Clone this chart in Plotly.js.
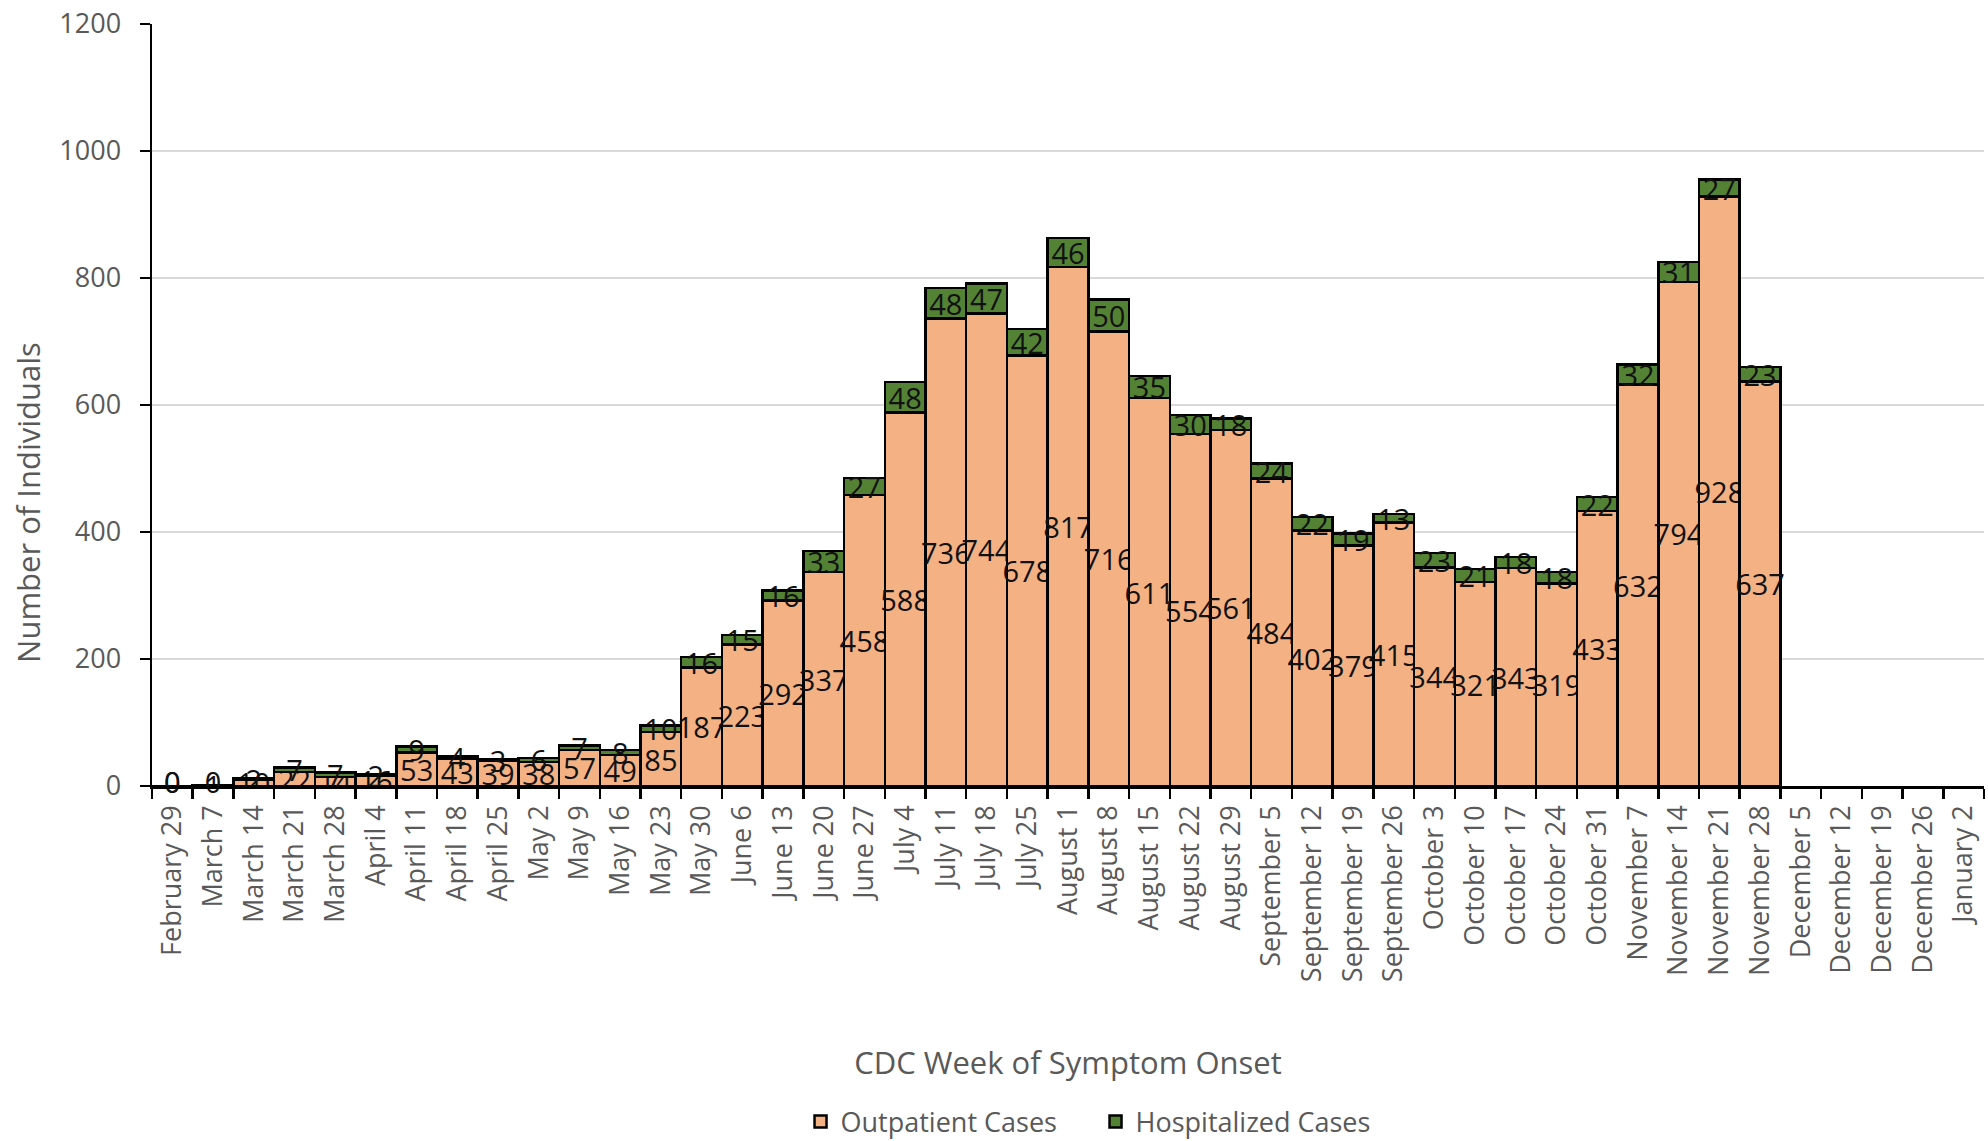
<!DOCTYPE html>
<html>
<head>
<meta charset="utf-8">
<script src="https://cdn.plot.ly/plotly-3.0.1.min.js"></script>
<style>html,body{margin:0;padding:0;background:#fff;}#chart{width:1988px;height:1141px;}</style>
</head>
<body>
<div id="chart"></div>
<script>
const weeks = ["February 29","March 7","March 14","March 21","March 28","April 4","April 11","April 18","April 25","May 2","May 9","May 16","May 23","May 30","June 6","June 13","June 20","June 27","July 4","July 11","July 18","July 25","August 1","August 8","August 15","August 22","August 29","September 5","September 12","September 19","September 26","October 3","October 10","October 17","October 24","October 31","November 7","November 14","November 21","November 28","December 5","December 12","December 19","December 26","January 2"];
const outpatient = [0,1,10,22,14,16,53,43,39,38,57,49,85,187,223,292,337,458,588,736,744,678,817,716,611,554,561,484,402,379,415,344,321,343,319,433,632,794,928,637,null,null,null,null,null];
const hospitalized = [0,0,2,7,7,2,9,4,3,6,7,8,10,16,15,16,33,27,48,48,47,42,46,50,35,30,18,24,22,19,13,23,21,18,18,22,32,31,27,23,null,null,null,null,null];
const yTicks = [0,200,400,600,800,1000,1200];

const labelFont = {family: "Open Sans, sans-serif", size: 29, color: "#111"};
const gray = "#595959";

function labels(arr){ return arr.map(v => (v === null || v === 0) ? "" : String(v)); }

// zero-valued labels drawn as text at the baseline
const zx = [], zy = [], zt = [];
weeks.forEach((w,i) => {
  if (outpatient[i] === 0) { zx.push(w); zy.push(outpatient[i]); zt.push("0"); }
  if (hospitalized[i] === 0) { zx.push(w); zy.push((outpatient[i]||0) + hospitalized[i]); zt.push("0"); }
});

const traces = [
  {type: "bar", name: "Outpatient Cases", x: weeks, y: outpatient,
   marker: {color: "#F4B183", line: {color: "#000", width: 2.5}},
   text: labels(outpatient), textposition: "inside", insidetextanchor: "middle",
   textangle: 0, constraintext: "none", textfont: labelFont, hoverinfo: "x+y"},
  {type: "bar", name: "Hospitalized Cases", x: weeks, y: hospitalized,
   marker: {color: "#548235", line: {color: "#000", width: 2.5}},
   text: labels(hospitalized), textposition: "inside", insidetextanchor: "middle",
   textangle: 0, constraintext: "none", textfont: labelFont, hoverinfo: "x+y"},
  {type: "scatter", mode: "text", x: zx, y: zy, text: zt, textposition: "middle center",
   textfont: labelFont, showlegend: false, hoverinfo: "skip", cliponaxis: false}
];

const layout = {
  width: 1988, height: 1141,
  margin: {l: 152, r: 4, t: 24, b: 355, autoexpand: false},
  paper_bgcolor: "#fff", plot_bgcolor: "#fff",
  barmode: "stack", bargap: 0,
  font: {family: "Open Sans, sans-serif", color: gray},
  xaxis: {
    type: "category", categoryorder: "array", categoryarray: weeks,
    range: [-0.5, weeks.length - 0.5],
    tickangle: -90, tickfont: {size: 27, color: gray}, ticklabelstandoff: 6,
    ticks: "outside", tickson: "boundaries", ticklen: 10, tickwidth: 2.5, tickcolor: "#000",
    showline: true, linecolor: "#000", linewidth: 2.5, showgrid: false,
    title: {text: "CDC Week of Symptom Onset", font: {size: 31, color: gray}, standoff: 71},
    automargin: false
  },
  yaxis: {
    range: [0, 1200], tickvals: yTicks, tickfont: {size: 27, color: gray},
    ticks: "outside", ticklen: 10, tickwidth: 2.5, tickcolor: "#000", ticklabelstandoff: 13,
    showline: true, linecolor: "#000", linewidth: 2.5,
    showgrid: true, gridcolor: "#d9d9d9", gridwidth: 2, zeroline: false,
    automargin: false
  },
  showlegend: true,
  legend: {orientation: "h", x: 0.354, xanchor: "left", y: -0.441, yanchor: "middle",
           font: {size: 27, color: gray}, traceorder: "normal", itemwidth: 30, entrywidth: 250},
  annotations: [{
    text: "Number of Individuals", textangle: -90, showarrow: false,
    xref: "paper", yref: "paper", x: -0.068, y: 0.372, xanchor: "center", yanchor: "middle",
    font: {size: 31, color: gray}
  }]
};

Plotly.newPlot("chart", traces, layout, {displayModeBar: false, staticPlot: true});
</script>
</body>
</html>
